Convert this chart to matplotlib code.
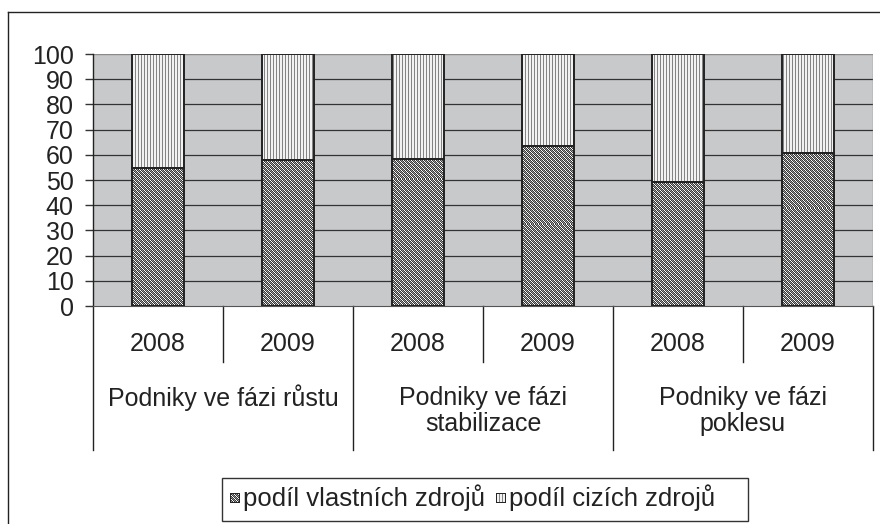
import numpy as np
import matplotlib
matplotlib.use("Agg")
import matplotlib.pyplot as plt
from matplotlib.lines import Line2D
from matplotlib.patches import Rectangle

plt.rcParams['font.family'] = ['Liberation Sans', 'DejaVu Sans']

# ---- data ----
years = ["2008", "2009", "2008", "2009", "2008", "2009"]
groups = ["Podniky ve fázi růstu", "Podniky ve fázi\nstabilizace", "Podniky ve fázi\npoklesu"]
own = [54.6, 57.9, 58.5, 63.5, 49.1, 60.8]          # podíl vlastních zdrojů
foreign = [100 - v for v in own]                   # podíl cizích zdrojů
series_names = ["podíl vlastních zdrojů", "podíl cizích zdrojů"]
yticks = list(range(0, 101, 10))

W, H = 880, 524
FS = 18
fig = plt.figure(figsize=(W / 100, H / 100), dpi=100)
fig.patch.set_facecolor("white")

def fx(px):
    return px / W

def fy(py):
    return 1 - py / H

L, R, T, B = 93, 873, 54, 306
ax = fig.add_axes([fx(L), fy(B), (R - L) / W, (B - T) / H])
ax.set_facecolor("#c8c9cb")

x = np.arange(len(years))
bw = 0.4
b1 = ax.bar(x, own, width=bw, facecolor="none", edgecolor="#222222", linewidth=1.4, zorder=3)
b2 = ax.bar(x, foreign, bottom=own, width=bw, facecolor="none", edgecolor="#222222", linewidth=1.4, zorder=3)

# textures
pw, ph = R - L, B - T
ii, jj = np.indices((ph, pw))
tex1 = np.ones((ph, pw, 3)) * 1.0
chk = ((ii + jj) % 2) == 0
tex1[chk] = 0.22
mid = (~chk) & (((jj - ii) % 4) == 1)
tex1[mid] = 0.6
vl = (jj % 3) == 0
tex2 = np.where(vl[..., None], np.array([0.52, 0.52, 0.52]), np.array([0.95, 0.95, 0.95]))
ext = (-0.5, len(years) - 0.5, 0, 100)
for p in b1:
    im = ax.imshow(tex1, extent=ext, origin="upper", aspect="auto", interpolation="nearest", zorder=2)
    im.set_clip_path(p)
for p in b2:
    im = ax.imshow(tex2, extent=ext, origin="upper", aspect="auto", interpolation="nearest", zorder=2)
    im.set_clip_path(p)
ax.set_xlim(-0.5, len(years) - 0.5)
ax.set_ylim(0, 100)

# grid
for v in yticks[1:-1]:
    ax.axhline(v, color="#333333", lw=0.9, zorder=1)
ax.axhline(100, color="#8a8a8a", lw=1.0, zorder=1)

for s in ["top", "right"]:
    ax.spines[s].set_visible(False)
ax.spines["bottom"].set_color("#555555")
ax.spines["left"].set_visible(False)
ax.axvline(len(years) - 0.5, color="#8a8a8a", lw=1.0, zorder=1)

ax.set_yticks(yticks)
ax.set_yticklabels([str(v) for v in yticks], fontsize=FS, color="#222222")
ax.tick_params(axis="y", length=6, width=1, color="#333333", pad=8, direction="out")
ax.set_xticks([])

tr = ax.get_xaxis_transform()
def ay(py):
    return (B - py) / (B - T)

# category axis lines
ax.add_line(Line2D([-0.5, -0.5], [1.0, ay(450)], transform=tr, color="#222222", lw=1, clip_on=False))
for g in range(3):
    xs = 2 * g + 0.5
    ax.add_line(Line2D([xs, xs], [0, ay(362)], transform=tr, color="#222222", lw=1, clip_on=False))
    xe = 2 * g + 1.5
    ax.add_line(Line2D([xe, xe], [0, ay(450)], transform=tr, color="#222222", lw=1, clip_on=False))

for i, yr in enumerate(years):
    ax.text(i, ay(344), yr, transform=tr, ha="center", va="center", fontsize=FS, color="#222222")
for g, lab in enumerate(groups):
    lines = lab.split("\n")
    for k, ln in enumerate(lines):
        ax.text(2 * g + 0.5, ay(398 + 26 * k), ln, transform=tr, ha="center", va="center",
                fontsize=FS, color="#222222")

# outer frame
fig.add_artist(Line2D([fx(8), fx(8)], [fy(12), fy(530)], transform=fig.transFigure, color="#222222", lw=1))
fig.add_artist(Line2D([fx(8), fx(890)], [fy(12), fy(12)], transform=fig.transFigure, color="#222222", lw=1))

# legend
fig.add_artist(Rectangle((fx(222), fy(521)), fx(748) - fx(222), fy(478) - fy(521),
                         transform=fig.transFigure, facecolor="white", edgecolor="#333333", lw=1))
def marker(px, py, tex):
    sz = 10
    sub = tex[:sz, :sz].copy()
    sub[0, :] = 0.15; sub[-1, :] = 0.15; sub[:, 0] = 0.15; sub[:, -1] = 0.15
    fig.figimage(sub, xo=px, yo=H - py - sz, zorder=5)

ty = 498
marker(230, ty - 5, tex1)
fig.text(fx(243), fy(ty), series_names[0], ha="left", va="center", fontsize=FS + 0.5, color="#222222")
marker(496, ty - 5, tex2)
fig.text(fx(509), fy(ty), series_names[1], ha="left", va="center", fontsize=FS + 0.5, color="#222222")

fig.savefig("out.png", dpi=100)
